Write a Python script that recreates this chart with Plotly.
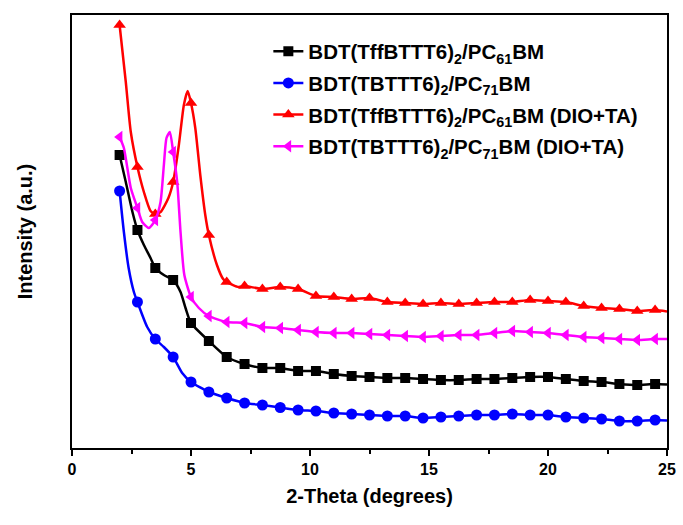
import plotly.graph_objects as go

# Shared marker positions (2-Theta, degrees)
marker_x = [2.0, 2.75, 3.5, 4.25, 5.0, 5.75, 6.5, 7.25, 8.0, 8.75, 9.5, 10.25, 11.0,
            11.75, 12.5, 13.25, 14.0, 14.75, 15.5, 16.25, 17.0, 17.75, 18.5, 19.25,
            20.0, 20.75, 21.5, 22.25, 23.0, 23.75, 24.5]

# Intensity (a.u.) at marker positions
black_y = [293, 218, 180, 168, 125, 107, 91, 84, 80, 80, 77, 77, 74, 72, 71, 70, 70,
           69, 68, 68, 69, 69, 70, 71, 71, 69, 67, 66, 64, 63, 64]
blue_y = [257, 146, 109, 91, 66, 56, 50, 45, 43, 40.5, 38, 37, 35, 34, 33, 32, 32, 30,
          31, 32, 33, 33, 34, 33, 33, 31, 30, 29, 27, 27, 28]
red_y = [423, 281, 234, 266, 345, 213, 166, 162, 159, 161, 159, 152, 151, 149, 150,
         146, 145, 144, 145, 144, 145, 146, 146, 148, 147, 146, 142, 140, 139, 137, 138]
magenta_y = [311, 240, 228, 296, 151, 132, 126, 125, 121, 120, 118, 116, 115, 115, 114,
             113, 112, 111, 112, 113, 113, 115, 117, 116, 115, 113, 111, 110, 109, 108, 109]

# Additional readings between markers (curve shape)
black_extra_x = [2.26, 2.54, 3.02, 3.3, 3.86, 4.56, 4.77, 25.0]
black_extra_y = [266, 236, 203, 190, 173, 156, 140, 63.5]
blue_extra_x = [2.18, 2.38, 2.6, 3.16, 3.86, 4.63, 25.0]
blue_extra_y = [216, 180, 156, 121, 101, 75, 27.5]
red_extra_x = [2.26, 2.47, 3.02, 3.3, 3.72, 4.05, 4.49, 4.7, 4.86, 5.18, 5.39, 5.6,
               6.09, 6.35, 7.0, 25.0]
red_extra_y = [366, 316, 256, 237, 236, 250, 303, 343, 357, 320, 273, 233,
               183, 169, 161, 136.5]
magenta_extra_x = [2.18, 2.47, 2.95, 3.23, 3.72, 3.86, 3.97, 4.11, 4.42, 4.56, 4.72,
                   5.33, 25.0]
magenta_extra_y = [300, 260, 226, 220, 246, 283, 310, 316, 266, 216, 173, 140, 109]

names = [
    "<b>BDT(TffBTTT6)<sub>2</sub>/PC<sub>61</sub>BM</b>",
    "<b>BDT(TBTTT6)<sub>2</sub>/PC<sub>71</sub>BM</b>",
    "<b>BDT(TffBTTT6)<sub>2</sub>/PC<sub>61</sub>BM (DIO+TA)</b>",
    "<b>BDT(TBTTT6)<sub>2</sub>/PC<sub>71</sub>BM (DIO+TA)</b>",
]
colors = ["#000000", "#0000FF", "#FF0000", "#FF00FF"]
symbols = ["square", "circle", "triangle-up", "triangle-left"]
msizes = [10, 11, 11, 11]
series = [
    (black_y, black_extra_x, black_extra_y),
    (blue_y, blue_extra_x, blue_extra_y),
    (red_y, red_extra_x, red_extra_y),
    (magenta_y, magenta_extra_x, magenta_extra_y),
]

fig = go.Figure()
for i, (my, ex, ey) in enumerate(series):
    pts = sorted(list(zip(marker_x, my)) + list(zip(ex, ey)))
    lx = [p[0] for p in pts]
    ly = [p[1] for p in pts]
    fig.add_trace(go.Scatter(x=lx, y=ly, mode="lines",
                             line=dict(color=colors[i], width=2.5, shape="spline", smoothing=0.6),
                             showlegend=False, hoverinfo="skip"))
    fig.add_trace(go.Scatter(x=marker_x, y=my, mode="markers",
                             marker=dict(symbol=symbols[i], color=colors[i], size=msizes[i],
                                         line=dict(width=0)),
                             showlegend=False))
    fig.add_trace(go.Scatter(x=[None], y=[None], mode="lines+markers", name=names[i],
                             legendgroup=f"g{i}",
                             line=dict(color=colors[i], width=2.5),
                             marker=dict(symbol=symbols[i], color=colors[i], size=msizes[i],
                                         line=dict(width=0))))

font_family = "Arial, 'Liberation Sans', sans-serif"
fig.update_layout(
    width=683, height=525,
    margin=dict(l=72, r=7, t=15, b=77),
    paper_bgcolor="white", plot_bgcolor="white",
    font=dict(family=font_family, color="black", size=16),
    legend=dict(x=0.33, y=0.962, xanchor="left", yanchor="top",
                font=dict(size=20.5, family=font_family, color="black"),
                bgcolor="rgba(0,0,0,0)", tracegroupgap=2, itemwidth=30),
    xaxis=dict(range=[0, 25], tickvals=[0, 5, 10, 15, 20, 25],
               ticktext=["<b>0</b>", "<b>5</b>", "<b>10</b>", "<b>15</b>", "<b>20</b>", "<b>25</b>"],
               ticks="outside", ticklen=6, tickwidth=2, tickcolor="black",
               minor=dict(ticks="outside", ticklen=4, tickwidth=2, tickcolor="black", dtick=2.5,
                          showgrid=False),
               showline=True, linewidth=2, linecolor="black", mirror=True,
               showgrid=False, zeroline=False,
               tickfont=dict(size=16),
               title=dict(text="<b>2-Theta (degrees)</b>", font=dict(size=20), standoff=12)),
    yaxis=dict(range=[0, 433], showticklabels=False, ticks="",
               showline=True, linewidth=2, linecolor="black", mirror=True,
               showgrid=False, zeroline=False,
               title=dict(text="<b>Intensity (a.u.)</b>", font=dict(size=20), standoff=32)),
)

fig.write_html("out.html")
